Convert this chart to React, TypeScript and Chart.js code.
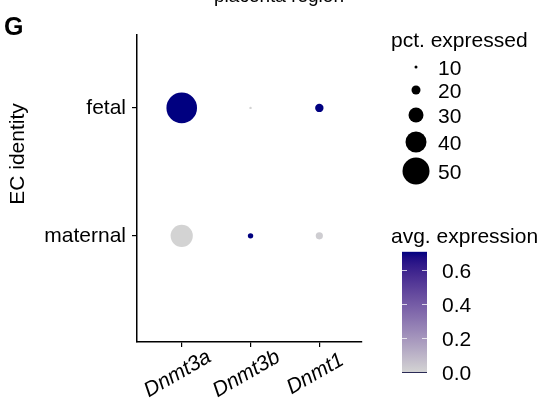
import React, { useEffect, useRef } from 'react';
import { Chart, registerables } from 'chart.js';

Chart.register(...registerables);

// ---------- data ----------
const genes = ['Dnmt3a', 'Dnmt3b', 'Dnmt1'];
const identities = ['maternal', 'fetal']; // y = 1, 2
const pctFetal = [56, 9, 19];
const pctMaternal = [42, 14, 17];
const expFetal = [0.707, 0.0, 0.707];
const expMaternal = [0.0, 0.707, 0.02];
const sizeLegendValues = [10, 20, 30, 40, 50];
const colorTicks = [0.0, 0.2, 0.4, 0.6];
const expMin = 0;
const expMax = 0.707;
const titleText = 'placenta region';
const panelLabel = 'G';
const yTitle = 'EC identity';
const sizeLegendTitle = 'pct. expressed';
const colorLegendTitle = 'avg. expression';

// ---------- styling helpers ----------
const LOW = [211, 211, 211];
const HIGH = [0, 0, 128];
const FONT = '"Liberation Sans", Arial, sans-serif';
const FS = 21;

function s2l(c: number) {
  c /= 255;
  return c <= 0.04045 ? c / 12.92 : Math.pow((c + 0.055) / 1.055, 2.4);
}
function l2s(c: number) {
  const v = c <= 0.0031308 ? 12.92 * c : 1.055 * Math.pow(c, 1 / 2.4) - 0.055;
  return Math.round(Math.max(0, Math.min(1, v)) * 255);
}
const Xn = 0.95047, Yn = 1.0, Zn = 1.08883;
function f(t: number) {
  return t > 0.008856 ? Math.cbrt(t) : 7.787 * t + 16 / 116;
}
function finv(t: number) {
  return t > 0.206893 ? t * t * t : (t - 16 / 116) / 7.787;
}
function rgbToLab(rgb: number[]) {
  const R = s2l(rgb[0]), G = s2l(rgb[1]), B = s2l(rgb[2]);
  const X = 0.4124 * R + 0.3576 * G + 0.1805 * B;
  const Y = 0.2126 * R + 0.7152 * G + 0.0722 * B;
  const Z = 0.0193 * R + 0.1192 * G + 0.9505 * B;
  const fx = f(X / Xn), fy = f(Y / Yn), fz = f(Z / Zn);
  return [116 * fy - 16, 500 * (fx - fy), 200 * (fy - fz)];
}
function labToRgb(lab: number[]) {
  const fy = (lab[0] + 16) / 116;
  const fx = fy + lab[1] / 500;
  const fz = fy - lab[2] / 200;
  const X = Xn * finv(fx), Y = Yn * finv(fy), Z = Zn * finv(fz);
  const R = 3.2406 * X - 1.5372 * Y - 0.4986 * Z;
  const G = -0.9689 * X + 1.8758 * Y + 0.0415 * Z;
  const B = 0.0557 * X - 0.204 * Y + 1.057 * Z;
  return [l2s(R), l2s(G), l2s(B)];
}
const LOW_LAB = rgbToLab(LOW);
const HIGH_LAB = rgbToLab(HIGH);
function colorFor(v: number) {
  const t = Math.max(0, Math.min(1, (v - expMin) / (expMax - expMin)));
  const lab = LOW_LAB.map((l, i) => l + (HIGH_LAB[i] - l) * t);
  const rgb = labToRgb(lab);
  return `rgb(${rgb[0]},${rgb[1]},${rgb[2]})`;
}
function diameterFor(pct: number) {
  return Math.max(0.8, 0.6 * pct - 3);
}

// ---------- layout constants ----------
const W = 539;
const H = 404;

const extrasPlugin = {
  id: 'extras',
  afterDraw(chart: any) {
    const ctx = chart.ctx as CanvasRenderingContext2D;
    const xs = chart.scales.x;
    ctx.save();
    ctx.fillStyle = '#000';

    // title (partially cut at top)
    ctx.font = `19px ${FONT}`;
    ctx.textAlign = 'center';
    ctx.textBaseline = 'alphabetic';
    ctx.fillText(titleText, 279, 1.5);

    // panel label
    ctx.font = `bold 25px ${FONT}`;
    ctx.textAlign = 'left';
    ctx.fillText(panelLabel, 4, 35);

    // y title
    ctx.save();
    ctx.translate(18, 154);
    ctx.rotate(-Math.PI / 2);
    ctx.font = `${FS}px ${FONT}`;
    ctx.textAlign = 'center';
    ctx.textBaseline = 'middle';
    ctx.fillText(yTitle, 0, 0);
    ctx.restore();

    // x labels (rotated, centred on ticks)
    genes.forEach((g, i) => {
      const px = xs.getPixelForValue(i + 1);
      ctx.save();
      ctx.translate(px - 4, 374);
      ctx.rotate(-Math.PI / 6);
      ctx.font = `italic ${FS}px ${FONT}`;
      ctx.textAlign = 'center';
      ctx.textBaseline = 'middle';
      ctx.fillText(g, 0, 0);
      ctx.restore();
    });

    // size legend
    ctx.font = `${FS}px ${FONT}`;
    ctx.textAlign = 'left';
    ctx.textBaseline = 'alphabetic';
    ctx.fillText(sizeLegendTitle, 391, 47);
    let y = 67;
    sizeLegendValues.forEach((v, i) => {
      const d = diameterFor(v);
      if (i > 0) {
        const dp = diameterFor(sizeLegendValues[i - 1]);
        y += 21 + (dp + d) / 6;
      }
      ctx.beginPath();
      ctx.arc(416, y, d / 2, 0, Math.PI * 2);
      ctx.fill();
      ctx.fillText(String(v), 438, y + 7.5);
    });

    // colour legend
    ctx.fillText(colorLegendTitle, 391, 243);
    const cbX = 402, cbW = 25, cbBottom = 372, pxPerUnit = 170;
    const yOf = (v: number) => cbBottom - (v - expMin) * pxPerUnit;
    const cbTop = yOf(expMax);
    const grad = ctx.createLinearGradient(0, cbBottom, 0, cbTop);
    for (let k = 0; k <= 20; k++) {
      const t = k / 20;
      grad.addColorStop(t, colorFor(expMin + t * (expMax - expMin)));
    }
    ctx.fillStyle = grad;
    ctx.fillRect(cbX, cbTop, cbW, cbBottom - cbTop);
    ctx.strokeStyle = 'rgba(255,255,255,0.75)';
    ctx.lineWidth = 1;
    colorTicks.forEach((v) => {
      const ty = Math.round(yOf(v)) + 0.5;
      if (v === expMin) return;
      ctx.beginPath();
      ctx.moveTo(cbX, ty);
      ctx.lineTo(cbX + 5, ty);
      ctx.moveTo(cbX + cbW - 5, ty);
      ctx.lineTo(cbX + cbW, ty);
      ctx.stroke();
    });
    ctx.strokeStyle = '#2a2a55';
    ctx.beginPath();
    ctx.moveTo(cbX, cbBottom + 0.5);
    ctx.lineTo(cbX + cbW, cbBottom + 0.5);
    ctx.stroke();
    ctx.fillStyle = '#000';
    colorTicks.forEach((v) => {
      ctx.fillText(v.toFixed(1), 442, yOf(v) + 7.5);
    });

    ctx.restore();
  },
};

export default function App() {
  const ref = useRef<HTMLCanvasElement | null>(null);
  useEffect(() => {
    if (!ref.current) return;
    const points: any[] = [];
    genes.forEach((g, i) => {
      points.push({ x: i + 1, y: 2, pct: pctFetal[i], exp: expFetal[i] });
      points.push({ x: i + 1, y: 1, pct: pctMaternal[i], exp: expMaternal[i] });
    });
    const chart = new Chart(ref.current, {
      type: 'scatter',
      data: {
        datasets: [
          {
            data: points,
            pointRadius: (c: any) => diameterFor(c.raw.pct) / 2,
            pointHoverRadius: (c: any) => diameterFor(c.raw.pct) / 2,
            backgroundColor: (c: any) => colorFor(c.raw.exp),
            borderWidth: 0,
            clip: false,
          } as any,
        ],
      },
      options: {
        animation: false,
        responsive: false,
        events: [],
        layout: { padding: { left: 0, top: 35, right: 177, bottom: 0 } },
        plugins: { legend: { display: false }, tooltip: { enabled: false }, title: { display: false } },
        scales: {
          x: {
            type: 'linear',
            min: 0.35,
            max: 3.62,
            afterBuildTicks: (s: any) => {
              s.ticks = genes.map((_, i) => ({ value: i + 1 }));
            },
            afterFit: (s: any) => {
              s.height = 62;
            },
            ticks: { display: false },
            grid: { drawOnChartArea: false, drawTicks: true, tickLength: 5, color: '#000', tickColor: '#000', lineWidth: 1.2 },
            border: { display: true, color: '#000', width: 1.5 },
          },
          y: {
            type: 'linear',
            min: 0.17,
            max: 2.57,
            afterBuildTicks: (s: any) => {
              s.ticks = identities.map((_, i) => ({ value: i + 1 }));
            },
            afterFit: (s: any) => {
              s.width = 137;
            },
            ticks: {
              callback: (v: any) => identities[Math.round(Number(v)) - 1] ?? '',
              font: { family: FONT, size: FS },
              color: '#000',
              padding: 6,
            },
            grid: { drawOnChartArea: false, drawTicks: true, tickLength: 5, color: '#000', tickColor: '#000', lineWidth: 1.2 },
            border: { display: true, color: '#000', width: 1.5 },
          },
        },
      } as any,
      plugins: [extrasPlugin],
    });
    return () => chart.destroy();
  }, []);
  return (
    <div style={{ position: 'absolute', left: 0, top: 0, width: W, height: H, background: '#fff' }}>
      <canvas ref={ref} width={W} height={H} style={{ display: 'block', width: W, height: H }} />
    </div>
  );
}
